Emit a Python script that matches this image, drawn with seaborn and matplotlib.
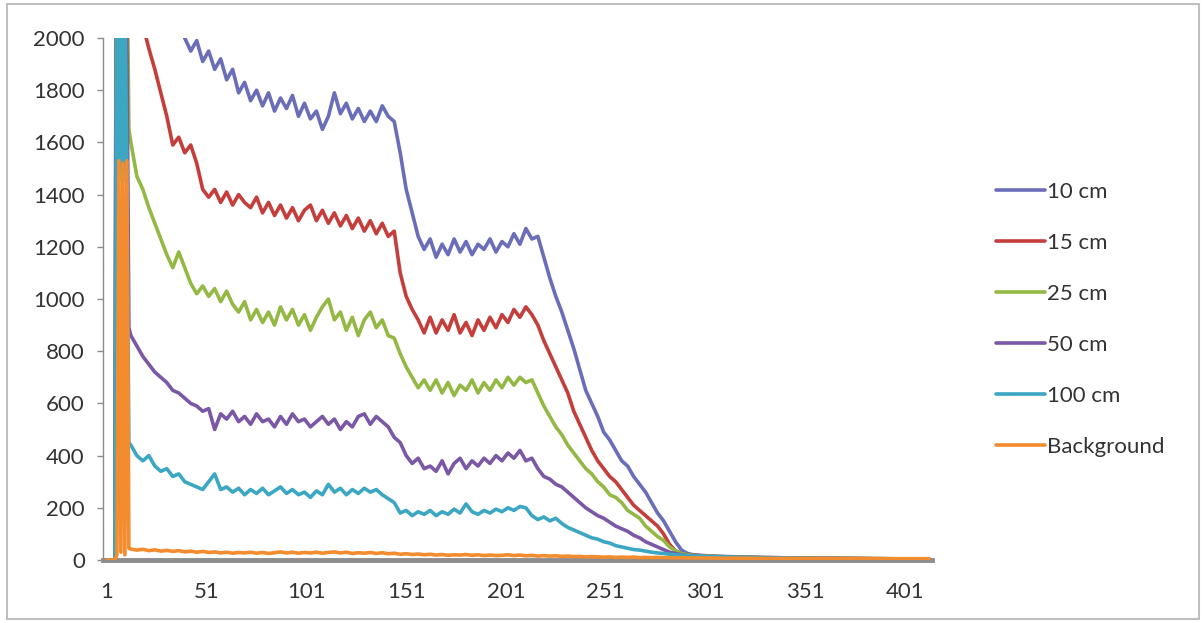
import matplotlib
matplotlib.use("Agg")
import matplotlib.pyplot as plt
import matplotlib.patches as patches
import pandas as pd
import seaborn as sns

# channel numbers (category axis of the spreadsheet chart)
channels = [1, 5, 6, 7, 8, 9, 10, 11, 12,
            13, 16, 19, 22, 25, 28, 31, 34, 37, 40,
            43, 46, 49, 52, 55, 58, 61, 64, 67, 70,
            73, 76, 79, 82, 85, 88, 91, 94, 97, 100,
            103, 106, 109, 112, 115, 118, 121, 124, 127, 130,
            133, 136, 139, 142, 145, 148, 151, 154, 157, 160,
            163, 166, 169, 172, 175, 178, 181, 184, 187, 190,
            193, 196, 199, 202, 205, 208, 211, 214, 217, 220,
            223, 226, 229, 232, 235, 238, 241, 244, 247, 250,
            253, 256, 259, 262, 265, 268, 271, 274, 277, 280,
            283, 286, 289, 292, 295,
            300, 308, 318, 330, 345, 360, 375, 390, 405, 413]

cm10 = [0, 0, 4000, 4600, 4500, 4400, 4300, 4100, 3900,
        3800, 3400, 3100, 2850, 2650, 2450, 2300, 2180, 2080, 2000,
        1950, 1990, 1910, 1950, 1880, 1920, 1840, 1880, 1790, 1830,
        1760, 1800, 1740, 1790, 1720, 1770, 1730, 1780, 1700, 1750,
        1690, 1720, 1650, 1700, 1790, 1710, 1750, 1690, 1730, 1680,
        1720, 1680, 1740, 1700, 1680, 1560, 1420, 1330, 1240, 1190,
        1230, 1160, 1210, 1170, 1230, 1180, 1220, 1170, 1210, 1190,
        1230, 1180, 1220, 1200, 1250, 1210, 1270, 1230, 1240, 1160,
        1080, 1010, 950, 880, 810, 730, 650, 600, 550, 490,
        460, 420, 380, 360, 320, 290, 260, 220, 180, 150,
        110, 70, 38, 25, 20,
        17, 14, 12, 10, 8, 7, 6, 5, 4, 4]

cm15 = [0, 0, 3800, 4300, 4200, 4000, 3800, 3500, 3200,
        2900, 2400, 2050, 1960, 1880, 1790, 1700, 1590, 1620, 1560,
        1590, 1520, 1420, 1390, 1420, 1370, 1410, 1360, 1400, 1370,
        1350, 1390, 1330, 1370, 1320, 1360, 1310, 1350, 1300, 1340,
        1360, 1300, 1340, 1290, 1330, 1280, 1320, 1270, 1310, 1260,
        1300, 1250, 1290, 1240, 1260, 1100, 1010, 960, 920, 870,
        930, 870, 920, 880, 940, 870, 910, 860, 920, 880,
        930, 890, 940, 910, 960, 930, 970, 940, 900, 840,
        790, 740, 690, 640, 570, 520, 470, 420, 380, 350,
        320, 300, 270, 240, 210, 190, 170, 150, 130, 100,
        60, 35, 25, 20, 18,
        16, 13, 11, 9, 8, 7, 6, 5, 4, 4]

cm25 = [0, 0, 3300, 3700, 3600, 3200, 2800, 2400, 1650,
        1600, 1470, 1420, 1350, 1290, 1230, 1170, 1120, 1180, 1120,
        1060, 1020, 1050, 1010, 1040, 990, 1030, 980, 950, 990,
        920, 960, 910, 950, 900, 970, 920, 960, 900, 940,
        880, 930, 970, 1000, 920, 950, 880, 930, 860, 920,
        950, 890, 920, 860, 850, 790, 740, 700, 660, 690,
        650, 690, 640, 680, 630, 670, 650, 690, 640, 680,
        650, 690, 660, 700, 670, 700, 680, 690, 640, 590,
        550, 510, 480, 440, 410, 380, 350, 330, 300, 280,
        250, 240, 220, 190, 175, 160, 130, 110, 90, 75,
        50, 35, 25, 20, 17,
        15, 13, 11, 9, 8, 7, 6, 5, 4, 4]

cm50 = [0, 0, 2800, 3200, 3000, 2600, 2300, 2000, 890,
        860, 820, 780, 750, 720, 700, 680, 650, 640, 620,
        600, 590, 570, 580, 500, 560, 540, 570, 530, 550,
        520, 560, 530, 540, 510, 550, 520, 560, 530, 540,
        510, 530, 550, 520, 540, 500, 530, 510, 550, 560,
        520, 550, 530, 510, 470, 450, 400, 370, 390, 350,
        360, 340, 380, 330, 370, 390, 350, 380, 360, 390,
        370, 400, 380, 410, 390, 420, 380, 390, 350, 320,
        310, 290, 280, 260, 240, 220, 200, 185, 170, 160,
        145, 130, 120, 110, 95, 85, 70, 60, 50, 40,
        30, 25, 20, 17, 15,
        13, 11, 10, 8, 7, 6, 5, 4, 4, 3]

cm100 = [0, 0, 2200, 1450, 2200, 1450, 2200, 1450, 450,
         440, 400, 380, 400, 360, 340, 350, 320, 330, 300,
         290, 280, 270, 300, 330, 270, 280, 260, 275, 250,
         270, 255, 275, 250, 265, 280, 255, 270, 250, 260,
         240, 265, 250, 290, 260, 275, 250, 270, 255, 275,
         260, 270, 250, 235, 220, 180, 190, 170, 185, 175,
         190, 170, 185, 175, 195, 180, 215, 185, 175, 190,
         180, 195, 185, 200, 190, 205, 200, 170, 155, 165,
         150, 160, 140, 125, 115, 105, 95, 85, 80, 70,
         65, 55, 50, 45, 40, 38, 34, 30, 27, 25,
         22, 20, 18, 16, 15,
         14, 12, 10, 8, 7, 6, 5, 4, 4, 3]

background = [0, 0, 20, 1530, 30, 1520, 20, 1530, 45,
              42, 38, 41, 36, 39, 34, 37, 33, 36, 31,
              34, 30, 33, 29, 31, 27, 30, 26, 29, 27,
              30, 26, 29, 25, 28, 31, 27, 30, 26, 29,
              27, 30, 26, 29, 31, 27, 30, 25, 28, 26,
              29, 25, 28, 24, 26, 22, 24, 21, 23, 20,
              22, 19, 21, 18, 20, 19, 21, 18, 20, 17,
              19, 17, 18, 20, 17, 19, 16, 18, 15, 17,
              15, 16, 14, 15, 13, 14, 12, 13, 12, 11,
              12, 10, 11, 10, 11, 9, 10, 9, 10, 9,
              9, 8, 9, 8, 8,
              8, 7, 7, 6, 6, 6, 5, 5, 5, 5]

labels = ["10 cm", "15 cm", "25 cm", "50 cm", "100 cm", "Background"]
colors = ["#6A6DB8", "#C43E3B", "#93B944", "#7A58A6", "#3CA7C2", "#F28C2E"]
tick_pos = [1, 51, 101, 151, 201, 251, 301, 351, 401]

series = [cm10, cm15, cm25, cm50, cm100, background]
frames = []
for name, vals in zip(labels, series):
    frames.append(pd.DataFrame({"channel": channels, "counts": vals, "series": name}))
df = pd.concat(frames, ignore_index=True)

sns.set_style("white")
plt.rcParams["font.family"] = ["Lato", "DejaVu Sans"]

fig = plt.figure(figsize=(12.04, 6.23), dpi=100)
ax = fig.add_axes([0.0855, 0.1011, 0.6885, 0.8379])

sns.lineplot(
    data=df,
    x="channel",
    y="counts",
    hue="series",
    hue_order=labels,
    palette=colors,
    estimator=None,
    sort=False,
    linewidth=2.6,
    ax=ax,
    zorder=3,
)

ax.set_xlim(-1, 414.5)
ax.set_ylim(0, 2000)
ax.set_xticks(tick_pos)
ax.set_xticklabels([str(t) for t in tick_pos])
ax.set_yticks(range(0, 2001, 200))
ax.set_xlabel("")
ax.set_ylabel("")

for side in ["top", "right"]:
    ax.spines[side].set_visible(False)
ax.spines["left"].set_color("#8C8C8C")
ax.spines["left"].set_linewidth(1.0)
ax.spines["bottom"].set_color("#8C8C8C")
ax.spines["bottom"].set_linewidth(3.5)

ax.tick_params(axis="y", length=4, width=1, color="#8C8C8C", pad=9,
               labelsize=16, labelcolor="#333333", left=True)
ax.tick_params(axis="x", length=0, pad=16, labelsize=16, labelcolor="#333333")

handles, lbls = ax.get_legend_handles_labels()
ax.get_legend().remove()
fig.legend(handles, lbls, loc="upper left", bbox_to_anchor=(0.8181, 0.7265),
           frameon=False, fontsize=16, borderpad=0, handlelength=2.2,
           handletextpad=0.1, labelspacing=1.4, labelcolor="#333333")

# chart-area border
fig.patches.append(patches.Rectangle((7 / 1204, 4 / 623), 1192 / 1204, 615 / 623,
                                     transform=fig.transFigure, fill=False,
                                     edgecolor="#BFBFBF", linewidth=1.5))

fig.savefig("out.png", dpi=100)
plt.close(fig)
